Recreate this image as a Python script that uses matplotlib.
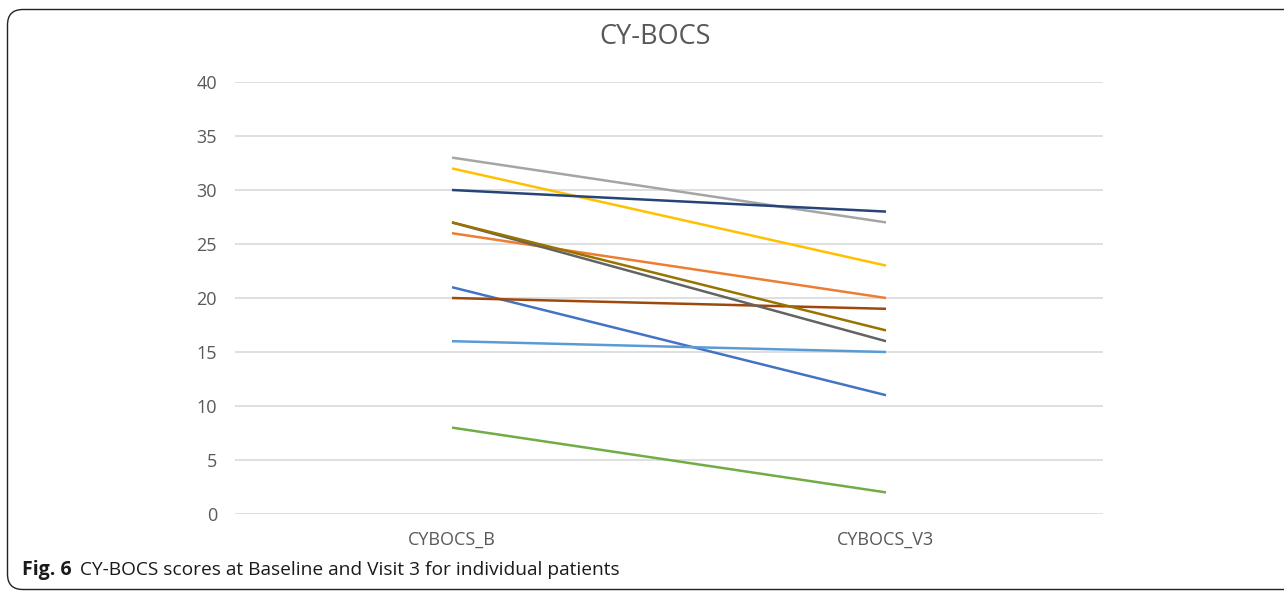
import matplotlib
matplotlib.use("Agg")
import matplotlib.pyplot as plt
from matplotlib.patches import FancyBboxPatch

categories = ["CYBOCS_B", "CYBOCS_V3"]
baseline = [21, 26, 33, 32, 16, 8, 30, 20, 27, 27]
visit3 = [11, 20, 27, 23, 15, 2, 28, 19, 16, 17]
colors = ["#4472C4", "#ED7D31", "#A5A5A5", "#FFC000", "#5B9BD5",
          "#70AD47", "#264478", "#9E480E", "#636363", "#997300"]
yticks = [0, 5, 10, 15, 20, 25, 30, 35, 40]
title = "CY-BOCS"

W, H = 1284, 591
plt.rcParams['font.family'] = ['Open Sans', 'DejaVu Sans']
fig = plt.figure(figsize=(W / 100, H / 100), dpi=100)
ax = fig.add_axes([235 / W, 1 - 514 / H, (1103 - 235) / W, (514 - 82) / H])

x = list(range(len(categories)))
for b, v, c in zip(baseline, visit3, colors):
    ax.plot(x, [b, v], color=c, lw=1.8, solid_capstyle='butt', zorder=3)

ax.set_xlim(-0.5, 1.5)
ax.set_ylim(0, 40)
ax.set_yticks(yticks)
ax.set_xticks(x)
ax.set_xticklabels(categories)
ax.grid(axis='y', color='#D9D9D9', lw=1.2)
ax.set_axisbelow(True)
for s in ax.spines.values():
    s.set_visible(False)
ax.tick_params(axis='both', length=0, labelsize=13, colors='#595959')
ax.tick_params(axis='y', pad=13)
ax.tick_params(axis='x', pad=12)

fig.text(655 / W, 1 - 37 / H, title, ha='center', va='center',
         fontsize=19.5, color='#595959')

fig.text(22 / W, 1 - 570 / H, "Fig. 6", ha='left', va='center',
         fontsize=14, fontweight='bold', color='#1a1a1a')
fig.text(80 / W, 1 - 570 / H, "CY-BOCS scores at Baseline and Visit 3 for individual patients",
         ha='left', va='center', fontsize=13.8, color='#1a1a1a')

box = FancyBboxPatch((7.5 / W, 1 - 589.5 / H), (1320 - 7.5) / W, (589.5 - 9.5) / H,
                     boxstyle="round,pad=0,rounding_size=0.012",
                     transform=fig.transFigure, fill=False, ec='#222222', lw=1.0,
                     mutation_aspect=W / H)
fig.patches.append(box)

fig.savefig("out.png", dpi=100)
